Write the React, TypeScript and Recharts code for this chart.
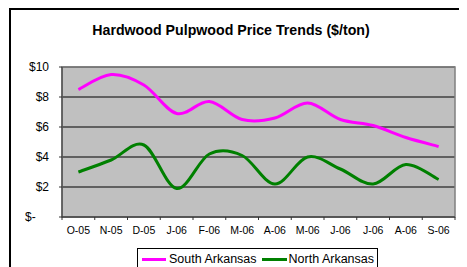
import { LineChart, Line, XAxis, YAxis, CartesianGrid, ReferenceArea } from "recharts"

const months = ["O-05", "N-05", "D-05", "J-06", "F-06", "M-06", "A-06", "M-06", "J-06", "J-06", "A-06", "S-06"]
const southArkansas = [8.5, 9.5, 8.8, 6.9, 7.7, 6.5, 6.6, 7.6, 6.5, 6.1, 5.3, 4.7]
const northArkansas = [3.0, 3.8, 4.8, 1.9, 4.2, 4.1, 2.2, 4.0, 3.2, 2.2, 3.5, 2.5]
const yTicks = [0, 2, 4, 6, 8, 10]

const data = months.map((month, i) => ({
  x: i + 0.5,
  month,
  south: southArkansas[i],
  north: northArkansas[i],
}))

// category boundaries get the tick marks, centres get the labels (Excel style)
const boundaryTicks = months.map((_, i) => i).concat(months.length)
const centreTicks = months.map((_, i) => i + 0.5)

const font = '"Liberation Sans", Arial, sans-serif'

// Excel-like smoothing: Catmull-Rom through every point
function excelSmooth(context: any) {
  let pts: [number, number][] = []
  return {
    areaStart() {},
    areaEnd() {},
    lineStart() {
      pts = []
    },
    lineEnd() {
      if (!pts.length) return
      context.moveTo(pts[0][0], pts[0][1])
      for (let i = 0; i < pts.length - 1; i++) {
        const p0 = pts[i - 1] || pts[i]
        const p1 = pts[i]
        const p2 = pts[i + 1]
        const p3 = pts[i + 2] || p2
        context.bezierCurveTo(
          p1[0] + (p2[0] - p0[0]) / 6,
          p1[1] + (p2[1] - p0[1]) / 6,
          p2[0] - (p3[0] - p1[0]) / 6,
          p2[1] - (p3[1] - p1[1]) / 6,
          p2[0],
          p2[1]
        )
      }
    },
    point(x: number, y: number) {
      pts.push([x, y])
    },
  }
}

const money = (v: number) => (v === 0 ? "$-\u00A0\u00A0\u00A0\u00A0" : `$${v}`)

export default function App() {
  return (
    <div style={{ position: "relative", width: 459, height: 259, overflow: "hidden", fontFamily: font }}>
      <div
        style={{
          position: "absolute",
          left: 1,
          top: 0,
          width: 600,
          height: 400,
          borderLeft: "2px solid #000",
          borderTop: "2px solid #000",
        }}
      />
      <div
        style={{
          position: "absolute",
          left: 0,
          top: 15,
          width: 446,
          textAlign: "center",
          fontSize: 14.2,
          lineHeight: "14.2px",
          fontWeight: "bold",
        }}
      >
        Hardwood Pulpwood Price Trends ($/ton)
      </div>
      <div style={{ position: "absolute", left: 0, top: 0 }}>
        <LineChart
          width={459}
          height={234}
          data={data}
          margin={{ top: 59, right: 12, left: 0, bottom: 0 }}
          style={{ fontFamily: font }}
        >
          <CartesianGrid vertical={false} stroke="#000" fill="#c0c0c0" fillOpacity={1} />
          <XAxis
            dataKey="x"
            type="number"
            domain={[0, months.length]}
            ticks={boundaryTicks}
            tickFormatter={() => ""}
            height={5}
            tickSize={3}
            stroke="#333"
            interval={0}
          />
          <XAxis
            xAxisId="labels"
            dataKey="x"
            type="number"
            domain={[0, months.length]}
            ticks={centreTicks}
            tickFormatter={(v: number) => months[Math.floor(v)]}
            height={20}
            tickSize={0}
            tickMargin={5}
            axisLine={false}
            tickLine={false}
            interval={0}
            tick={{ fill: "#000", fontSize: 10.5 }}
          />
          <YAxis
            domain={[0, 10]}
            ticks={yTicks}
            tickFormatter={money}
            width={54}
            tickSize={3}
            tickMargin={10}
            stroke="#333"
            interval={0}
            tick={{ fill: "#000", fontSize: 12 }}
          />
          <ReferenceArea x1={0} x2={months.length} y1={0} y2={10} fill="none" stroke="#808080" strokeWidth={1.5} />
          <Line
            dataKey="south"
            type={excelSmooth as any}
            stroke="#ff00ff"
            strokeWidth={3}
            dot={false}
            isAnimationActive={false}
          />
          <Line
            dataKey="north"
            type={excelSmooth as any}
            stroke="#008000"
            strokeWidth={3}
            dot={false}
            isAnimationActive={false}
          />
        </LineChart>
      </div>
      <div
        style={{
          position: "absolute",
          left: 129,
          top: 240,
          width: 241,
          height: 24,
          border: "1px solid #000",
          boxSizing: "border-box",
          display: "flex",
          alignItems: "center",
          paddingLeft: 4,
          paddingBottom: 2,
          fontSize: 12.5,
        }}
      >
        <span style={{ width: 24, height: 3, background: "#ff00ff", marginRight: 3 }} />
        <span>South Arkansas</span>
        <span style={{ width: 25, height: 3, background: "#008000", marginLeft: 5, marginRight: 2 }} />
        <span>North Arkansas</span>
      </div>
    </div>
  )
}
